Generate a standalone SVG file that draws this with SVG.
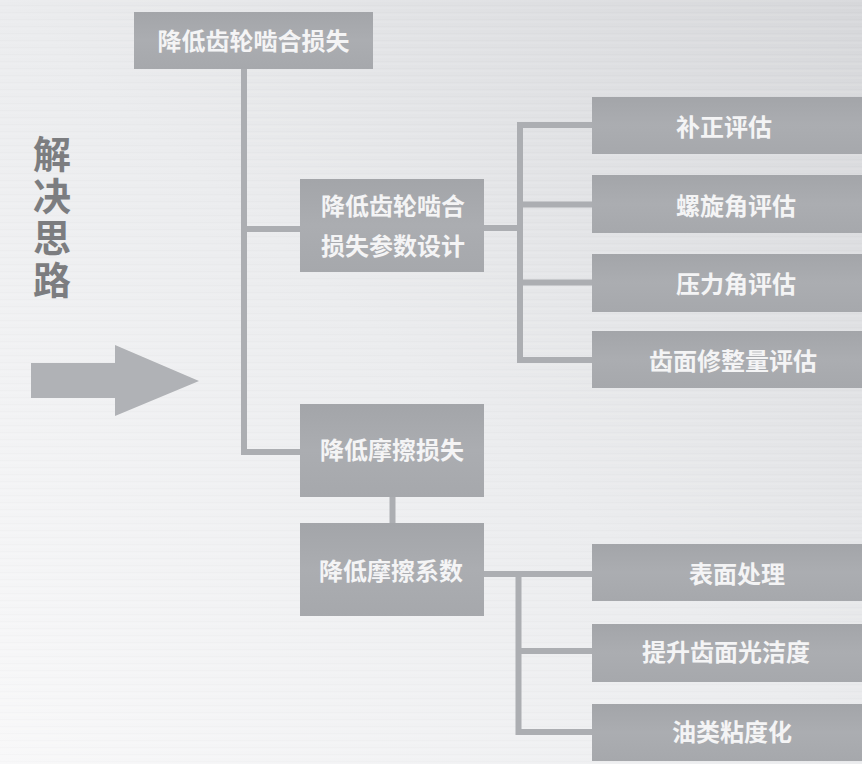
<svg xmlns="http://www.w3.org/2000/svg" width="862" height="764" viewBox="0 0 862 764">
<defs>
<linearGradient id="bg" x1="1" y1="0" x2="0" y2="1">
<stop offset="0" stop-color="#d6d7da"/>
<stop offset="0.5" stop-color="#ebecee"/>
<stop offset="1" stop-color="#f8f8f9"/>
</linearGradient>
<linearGradient id="box" x1="0" y1="0" x2="0" y2="1">
<stop offset="0" stop-color="#a3a5a9"/>
<stop offset="0.5" stop-color="#abadb1"/>
<stop offset="1" stop-color="#a6a8ac"/>
</linearGradient>
<pattern id="streak" width="862" height="7" patternUnits="userSpaceOnUse">
<rect x="0" y="0" width="862" height="2" fill="#ffffff" opacity="0.07"/>
<rect x="0" y="5" width="862" height="1" fill="#000000" opacity="0.012"/>
</pattern>
</defs>
<style>
.box{fill:url(#box);}
.t{font-family:"Noto Sans CJK SC","Noto Sans CJK TC",sans-serif;font-weight:bold;font-size:24px;fill:#f4f4f5;text-anchor:middle;}
.side{font-family:"Noto Sans CJK SC",sans-serif;font-weight:bold;font-size:38px;fill:#7c7d80;writing-mode:tb;letter-spacing:4px;}
.c{fill:none;stroke:#acaeb2;stroke-width:6;}
</style>
<rect x="0" y="0" width="862" height="764" fill="url(#bg)"/>
<rect x="0" y="0" width="862" height="764" fill="url(#streak)"/>

<g id="side-label">
<text class="side" x="52" y="135">解决思路</text>
</g>
<g id="big-arrow">
<polygon points="31,363 115,363 115,345 199,381 115,416 115,398 31,398" fill="#b0b2b6"/>
</g>

<g id="connectors">
<path class="c" d="M244,69 V452 H300"/>
<path class="c" d="M244,229 H300"/>
<path class="c" d="M392.5,497 V523"/>
<path class="c" d="M484,228 H520"/>
<path class="c" d="M592,125 H520 V360 H592"/>
<path class="c" d="M520,204.5 H592"/>
<path class="c" d="M520,282.5 H592"/>
<path class="c" d="M484,574 H592"/>
<path class="c" d="M518.5,574 V732 H592"/>
<path class="c" d="M518.5,651 H592"/>
</g>

<g id="n1">
<rect class="box" x="134" y="12" width="239" height="57"/>
<text class="t" x="253.5" y="50">降低齿轮啮合损失</text>
</g>
<g id="n2">
<rect class="box" x="300" y="179" width="184" height="93"/>
<text class="t" x="393" y="215">降低齿轮啮合</text>
<text class="t" x="393" y="255">损失参数设计</text>
</g>
<g id="n3">
<rect class="box" x="300" y="404" width="184" height="93"/>
<text class="t" x="392" y="459">降低摩擦损失</text>
</g>
<g id="n4">
<rect class="box" x="300" y="523" width="184" height="93"/>
<text class="t" x="391" y="580">降低摩擦系数</text>
</g>
<g id="r1">
<rect class="box" x="592" y="97" width="270" height="57"/>
<text class="t" x="724" y="136">补正评估</text>
</g>
<g id="r2">
<rect class="box" x="592" y="175" width="270" height="58"/>
<text class="t" x="736" y="215">螺旋角评估</text>
</g>
<g id="r3">
<rect class="box" x="592" y="254" width="270" height="58"/>
<text class="t" x="736" y="293">压力角评估</text>
</g>
<g id="r4">
<rect class="box" x="592" y="331" width="270" height="57"/>
<text class="t" x="733" y="370">齿面修整量评估</text>
</g>
<g id="r5">
<rect class="box" x="592" y="544" width="270" height="57"/>
<text class="t" x="737" y="583">表面处理</text>
</g>
<g id="r6">
<rect class="box" x="592" y="624" width="270" height="58"/>
<text class="t" x="726" y="661">提升齿面光洁度</text>
</g>
<g id="r7">
<rect class="box" x="592" y="704" width="270" height="57"/>
<text class="t" x="732" y="741">油类粘度化</text>
</g>
</svg>
